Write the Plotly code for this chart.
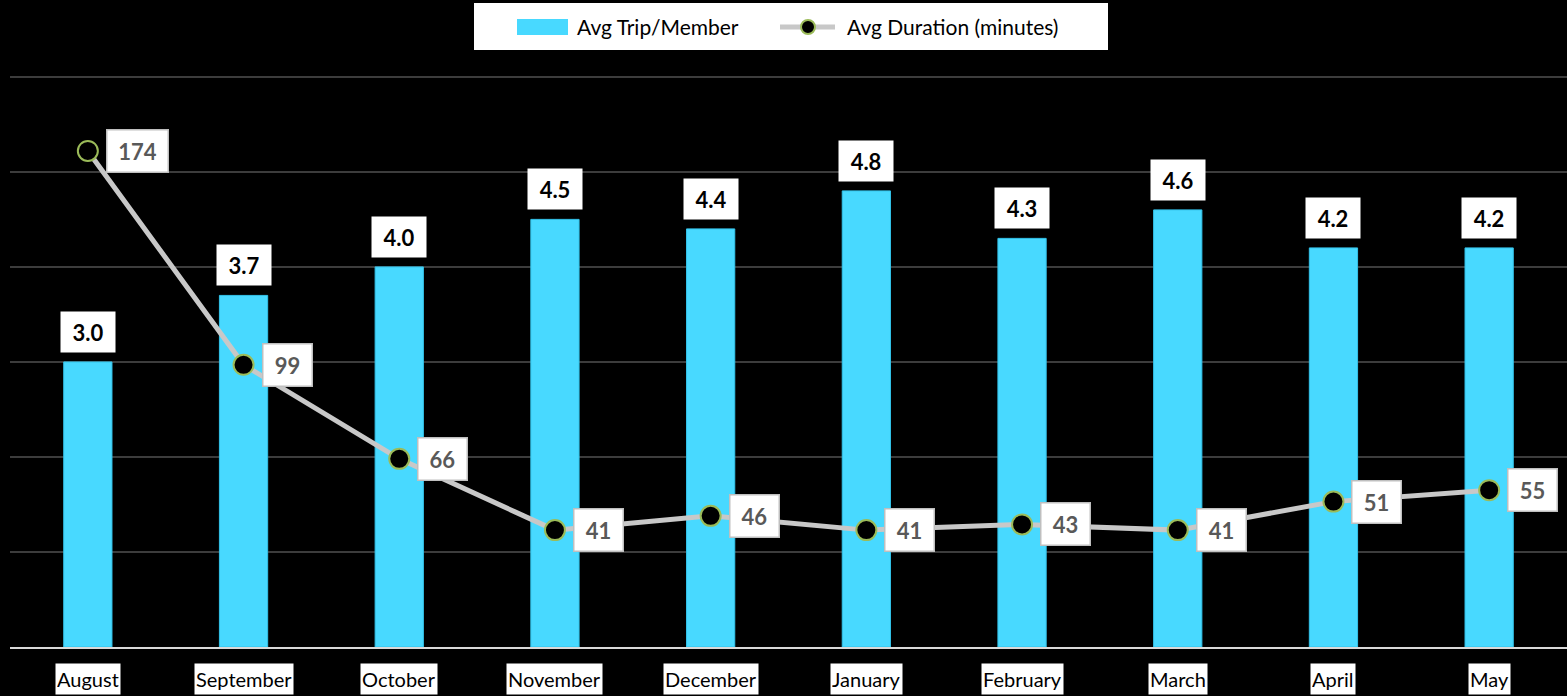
import plotly.graph_objects as go

months = ["August", "September", "October", "November", "December",
          "January", "February", "March", "April", "May"]
avg_trip = [3.0, 3.7, 4.0, 4.5, 4.4, 4.8, 4.3, 4.6, 4.2, 4.2]
avg_duration = [174, 99, 66, 41, 46, 41, 43, 41, 51, 55]

FONT = "Lato"
BAR_COLOR = "#48D9FF"
LINE_COLOR = "#C8C8C8"
MARKER_EDGE = "#9BBB59"

W, H = 1567, 696
ML, MR, MT, MB = 10, 0, 74, 49
PW, PH = W - ML - MR, H - MT - MB
Y1_TOP = 6.03
Y2_TOP = Y1_TOP / 6 * 200


def px_x(x):
    return (x - ML) / PW


def px_y(y):
    return (H - MB - y) / PH


fig = go.Figure()
fig.add_trace(go.Bar(
    x=months, y=avg_trip, name="Avg Trip/Member",
    marker=dict(color=BAR_COLOR, line=dict(width=1, color="#33C3EA")),
    width=0.31, yaxis="y", showlegend=False,
))
fig.add_trace(go.Scatter(
    x=months, y=avg_duration, name="Avg Duration (minutes)",
    mode="lines+markers", yaxis="y2", showlegend=False,
    line=dict(color=LINE_COLOR, width=5),
    marker=dict(size=20, color="black", line=dict(color=MARKER_EDGE, width=2)),
))

annotations = []
for m, v in zip(months, avg_trip):
    annotations.append(dict(
        x=m, y=v, xref="x", yref="y", text=f"<b>{v:.1f}</b>",
        showarrow=False, yanchor="bottom", yshift=9,
        bgcolor="white", borderpad=8, width=38, height=24,
        font=dict(family=FONT, size=22, color="black"),
    ))
for m, v in zip(months, avg_duration):
    s = str(v)
    annotations.append(dict(
        x=m, y=v, xref="x", yref="y2", text=f"<b>{s}</b>",
        showarrow=False, xanchor="left", xshift=18, yanchor="middle",
        bgcolor="white", bordercolor="#BFBFBF", borderwidth=1.5,
        borderpad=8, width=12 * len(s) + 8, height=25,
        font=dict(family=FONT, size=22, color="#595959"),
    ))
for m in months:
    annotations.append(dict(
        x=m, y=0, xref="x", yref="paper", text=m,
        showarrow=False, yanchor="top", yshift=-16,
        bgcolor="white", borderpad=1, height=28,
        font=dict(family=FONT, size=20, color="black"),
    ))

# manual legend
annotations += [
    dict(x=px_x(575), y=px_y(27), xref="paper", yref="paper",
         text="Avg Trip/Member", showarrow=False, xanchor="left",
         yanchor="middle", font=dict(family=FONT, size=21, color="black")),
    dict(x=px_x(845), y=px_y(27), xref="paper", yref="paper",
         text="Avg Duration (minutes)", showarrow=False, xanchor="left",
         yanchor="middle", font=dict(family=FONT, size=21, color="black")),
]
shapes = [
    dict(type="rect", xref="paper", yref="paper", layer="above",
         x0=px_x(474), x1=px_x(1108), y0=px_y(50), y1=px_y(3),
         fillcolor="white", line=dict(width=0)),
    dict(type="rect", xref="paper", yref="paper", layer="above",
         x0=px_x(517), x1=px_x(568), y0=px_y(35), y1=px_y(19),
         fillcolor=BAR_COLOR, line=dict(width=0)),
    dict(type="line", xref="paper", yref="paper", layer="above",
         x0=px_x(780), x1=px_x(835), y0=px_y(27), y1=px_y(27),
         line=dict(color=LINE_COLOR, width=5)),
    dict(type="circle", xref="paper", yref="paper", layer="above",
         x0=px_x(801), x1=px_x(815), y0=px_y(34), y1=px_y(20),
         fillcolor="black", line=dict(color=MARKER_EDGE, width=2)),
]

fig.update_layout(
    width=W, height=H,
    paper_bgcolor="black", plot_bgcolor="black",
    margin=dict(l=ML, r=MR, t=MT, b=MB),
    showlegend=False,
    xaxis=dict(
        range=[-0.5, len(months) - 0.5], autorange=False,
        showticklabels=False, showgrid=False, showline=True,
        linecolor="#D9D9D9", linewidth=2, ticks="",
    ),
    yaxis=dict(
        range=[0, Y1_TOP], tickvals=[1, 2, 3, 4, 5, 6], showticklabels=False,
        showgrid=True, gridcolor="#3C3C3C", gridwidth=1.5, zeroline=False,
    ),
    yaxis2=dict(
        range=[0, Y2_TOP], overlaying="y", side="right", showticklabels=False,
        showgrid=False, zeroline=False,
    ),
    annotations=annotations,
    shapes=shapes,
)

fig.write_html(
    "out.html",
    config={"displayModeBar": False},
    post_script="document.body.style.margin='0';"
                "document.body.style.background='black';"
                "document.body.style.overflow='hidden';",
)
